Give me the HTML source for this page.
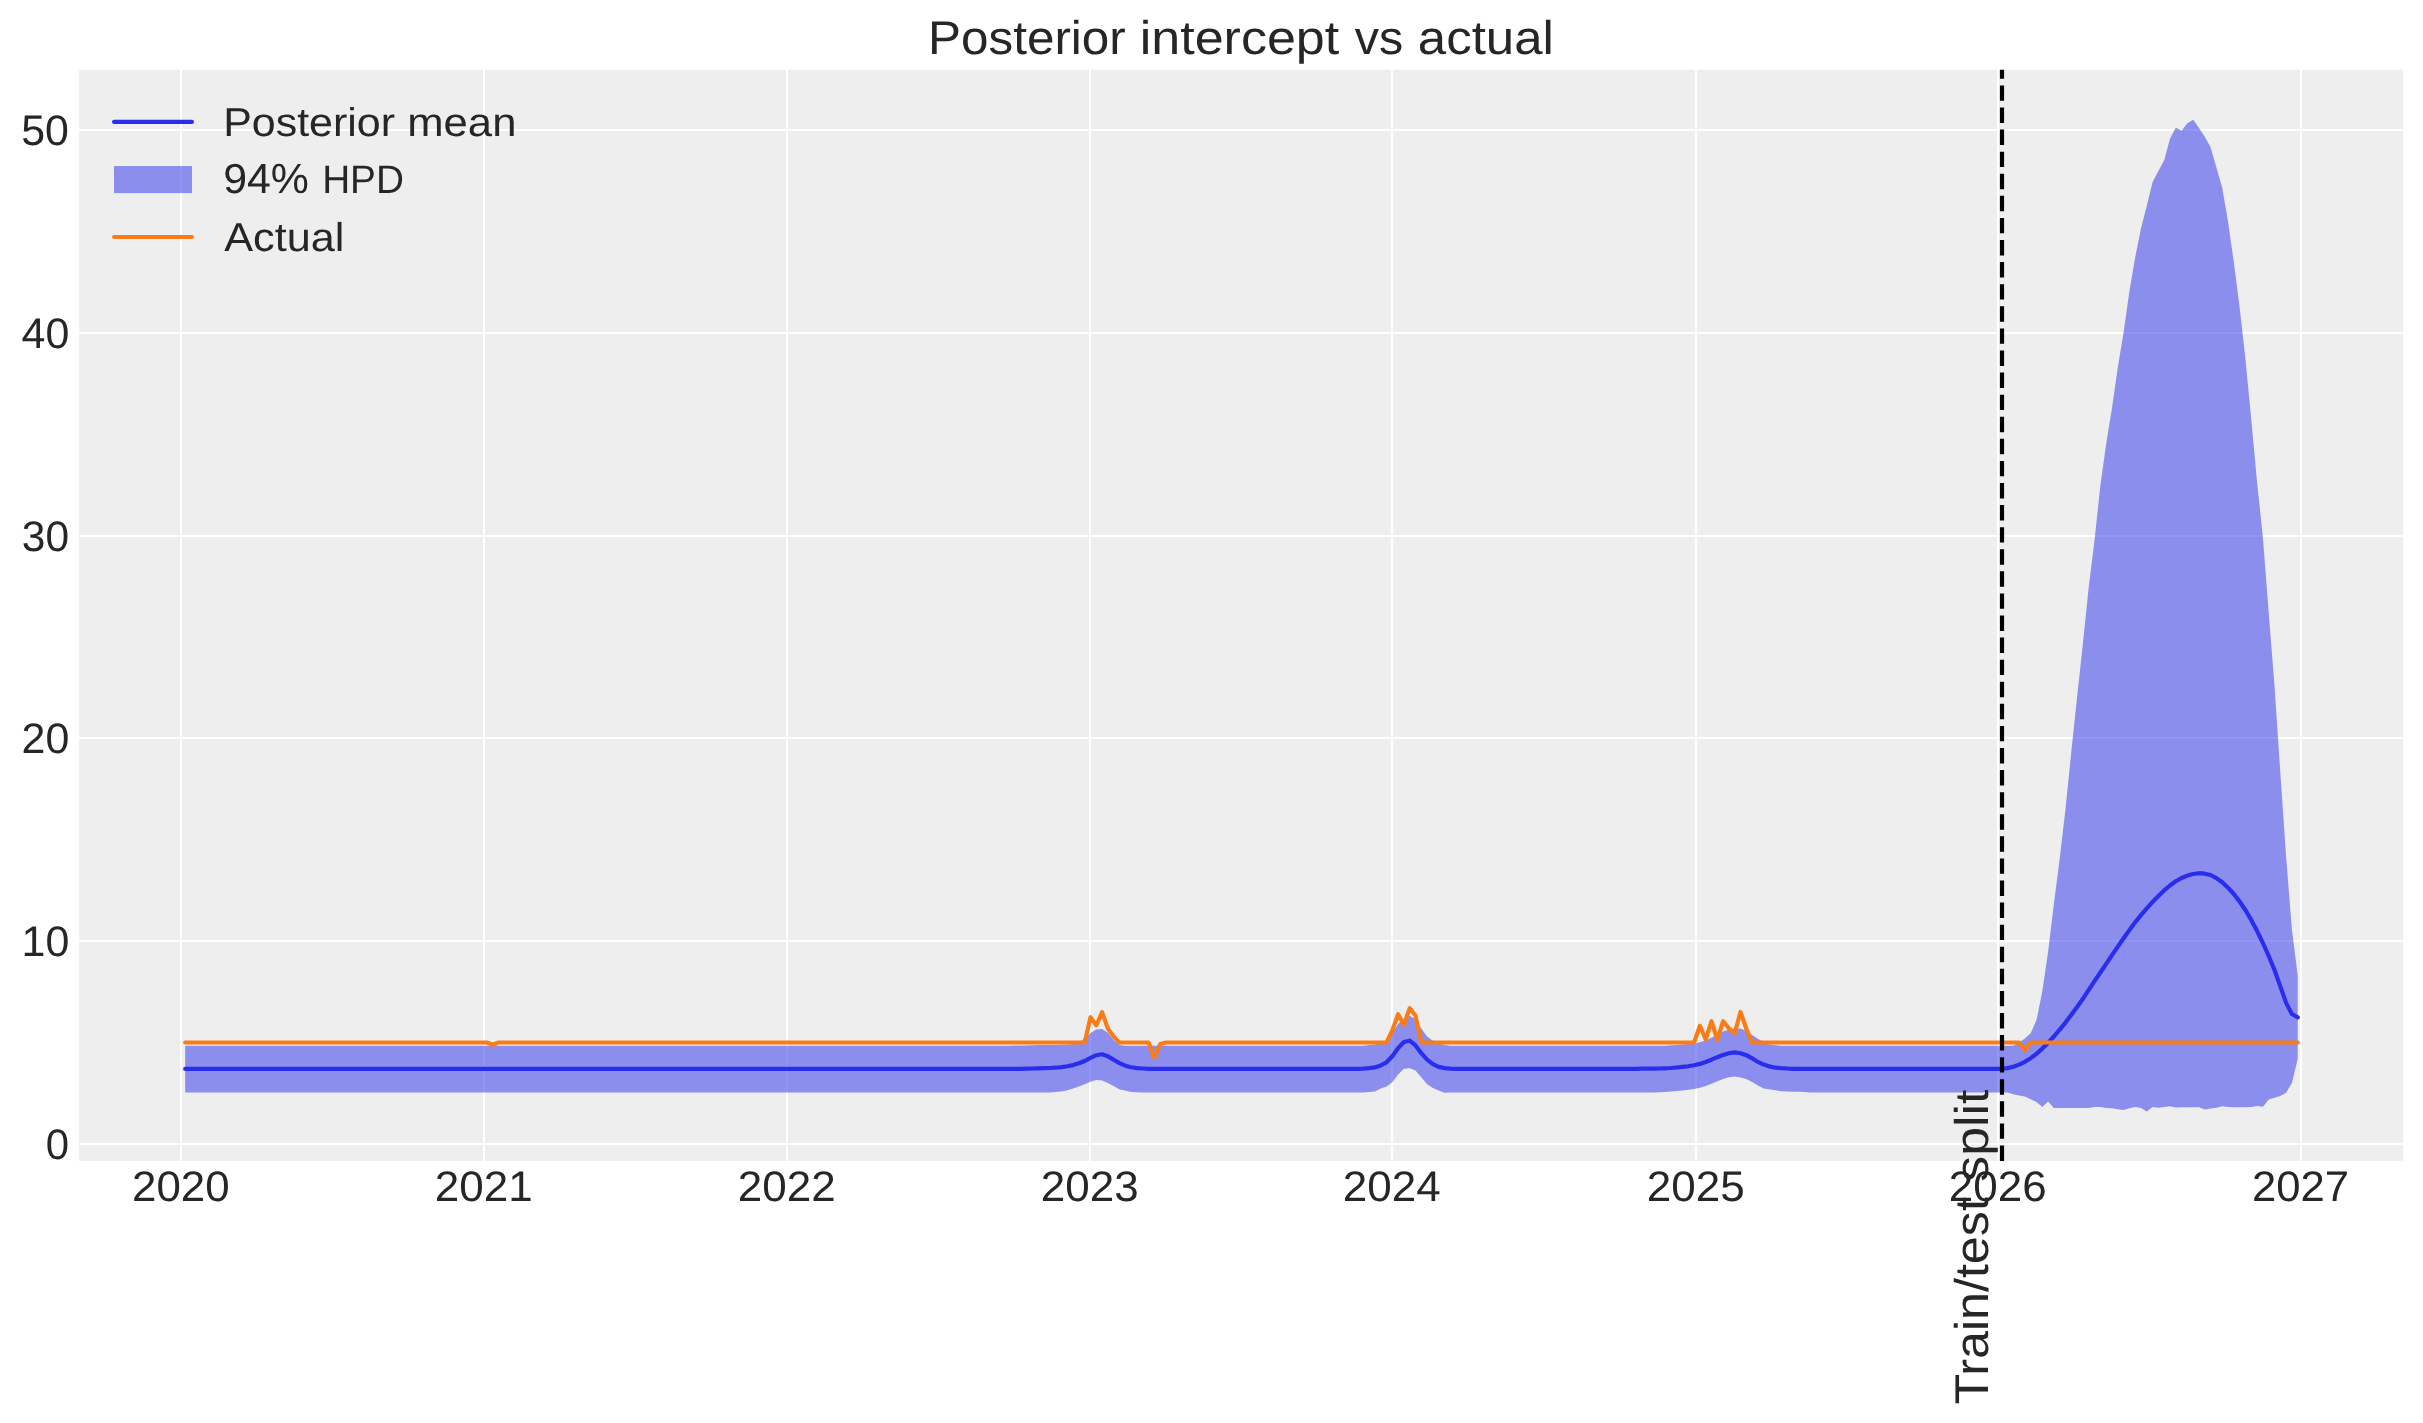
<!DOCTYPE html>
<html><head><meta charset="utf-8"><title>Posterior intercept vs actual</title>
<style>
html,body{margin:0;padding:0;background:#fff;}
body{width:2423px;height:1423px;overflow:hidden;}
svg{display:block;}
text{font-family:"Liberation Sans",sans-serif;fill:#262626;text-rendering:geometricPrecision;}
</style></head><body>
<svg width="2423" height="1423" viewBox="0 0 2423 1423">
<rect x="0" y="0" width="2423" height="1423" fill="#ffffff"/>
<rect x="79.0" y="69.8" width="2324.0" height="1091.1" fill="#eeeeee"/>
<g fill="#ffffff" shape-rendering="crispEdges"><rect x="180" y="69.8" width="2.1" height="1091.1"/><rect x="483" y="69.8" width="2.1" height="1091.1"/><rect x="786" y="69.8" width="2.1" height="1091.1"/><rect x="1089" y="69.8" width="2.1" height="1091.1"/><rect x="1391" y="69.8" width="2.1" height="1091.1"/><rect x="1695" y="69.8" width="2.1" height="1091.1"/><rect x="1997" y="69.8" width="2.1" height="1091.1"/><rect x="2300" y="69.8" width="2.1" height="1091.1"/><rect x="79.0" y="129" width="2324.0" height="2.1"/><rect x="79.0" y="332" width="2324.0" height="2.1"/><rect x="79.0" y="535" width="2324.0" height="2.1"/><rect x="79.0" y="737" width="2324.0" height="2.1"/><rect x="79.0" y="940" width="2324.0" height="2.1"/><rect x="79.0" y="1143" width="2324.0" height="2.1"/></g>
<path d="M185.2 1045.7L1003.5 1045.7L1009.3 1045.7L1015.1 1045.6L1020.9 1045.5L1026.7 1045.4L1032.5 1045.3L1038.3 1045.1L1044.1 1045.0L1049.9 1044.9L1055.7 1044.9L1061.5 1044.8L1067.3 1044.6L1073.1 1044.3L1078.9 1042.7L1084.7 1037.9L1090.5 1033.1L1096.3 1029.5L1102.1 1029.1L1107.9 1032.7L1113.7 1040.1L1119.5 1044.9L1125.3 1045.7L1363.3 1045.7L1369.1 1045.1L1374.9 1044.5L1380.7 1043.5L1386.5 1041.1L1392.3 1033.5L1398.1 1024.0L1403.9 1018.4L1409.7 1015.7L1415.5 1019.2L1421.3 1028.5L1427.1 1036.6L1432.9 1040.7L1438.7 1043.6L1444.5 1045.1L1450.3 1045.7L1665.1 1045.7L1670.9 1045.2L1676.7 1044.9L1682.5 1044.6L1688.3 1044.1L1694.1 1043.4L1699.9 1042.3L1705.7 1040.5L1711.5 1037.8L1717.3 1034.7L1723.1 1031.6L1728.9 1029.6L1734.7 1028.7L1740.5 1028.4L1746.3 1030.9L1752.1 1034.9L1757.9 1038.8L1763.7 1041.9L1769.5 1044.4L1775.3 1045.2L1781.2 1045.7L2013.3 1045.7L2019.1 1042.4L2024.9 1038.5L2030.7 1033.2L2036.5 1020.0L2042.3 991.6L2048.1 951.8L2053.9 904.1L2059.7 858.8L2065.5 809.1L2071.3 752.1L2077.1 696.9L2082.9 643.7L2088.7 587.6L2094.5 540.6L2100.4 485.5L2106.2 443.8L2112.0 408.0L2117.8 367.5L2123.6 332.6L2129.4 291.2L2135.2 257.4L2141.0 228.2L2146.8 205.7L2152.6 182.1L2158.4 170.9L2164.2 160.3L2170.0 138.7L2175.8 127.4L2181.6 130.8L2187.4 123.2L2193.2 119.8L2199.0 128.1L2204.8 136.7L2210.6 147.2L2216.4 167.5L2222.2 187.7L2228.0 221.5L2233.8 261.9L2239.6 306.9L2245.4 358.7L2251.2 419.0L2257.0 481.4L2262.9 537.8L2268.7 612.8L2274.5 685.8L2280.3 772.5L2286.1 856.6L2291.9 929.6L2297.7 975.4L2297.7 1059.0L2291.9 1083.1L2286.1 1092.7L2280.3 1096.1L2274.5 1097.8L2268.7 1099.5L2262.9 1106.8L2257.0 1106.0L2251.2 1107.1L2245.4 1107.2L2239.6 1107.3L2233.8 1107.3L2228.0 1107.1L2222.2 1106.2L2216.4 1107.7L2210.6 1108.5L2204.8 1109.6L2199.0 1107.2L2181.6 1107.2L2175.8 1107.4L2170.0 1106.2L2164.2 1107.1L2158.4 1107.8L2152.6 1107.0L2146.8 1111.5L2141.0 1108.1L2135.2 1107.1L2129.4 1108.2L2123.6 1110.1L2117.8 1109.3L2112.0 1108.2L2106.2 1108.1L2100.4 1107.0L2094.5 1107.1L2088.7 1107.9L2082.9 1108.1L2053.9 1108.1L2048.1 1101.6L2042.3 1107.1L2036.5 1102.1L2030.7 1099.3L2024.9 1096.5L2019.1 1095.4L2013.3 1094.2L2007.5 1092.4L1810.2 1092.4L1804.4 1091.9L1798.6 1091.8L1792.8 1091.7L1787.0 1091.6L1781.2 1091.3L1775.3 1090.3L1769.5 1089.2L1763.7 1088.6L1757.9 1085.6L1752.1 1081.9L1746.3 1078.9L1740.5 1077.5L1734.7 1076.4L1728.9 1077.3L1723.1 1079.1L1717.3 1081.3L1711.5 1083.7L1705.7 1086.1L1699.9 1087.8L1694.1 1089.0L1688.3 1089.8L1682.5 1090.5L1676.7 1091.1L1670.9 1091.6L1665.1 1091.9L1659.3 1092.3L1653.5 1092.4L1450.3 1092.4L1444.5 1092.7L1438.7 1090.4L1432.9 1087.9L1427.1 1084.3L1421.3 1077.3L1415.5 1070.4L1409.7 1068.3L1403.9 1068.8L1398.1 1074.4L1392.3 1082.3L1386.5 1086.5L1380.7 1088.6L1374.9 1091.6L1369.1 1092.1L1363.3 1092.4L1142.8 1092.4L1136.9 1092.2L1131.1 1092.1L1125.3 1090.6L1119.5 1089.6L1113.7 1085.9L1107.9 1083.0L1102.1 1080.6L1096.3 1080.1L1090.5 1081.7L1084.7 1084.2L1078.9 1086.5L1073.1 1088.5L1067.3 1090.3L1061.5 1091.6L1055.7 1092.0L1049.9 1092.4L185.2 1092.4Z" fill="#2a2eec" fill-opacity="0.5" stroke="none"/>
<path d="M185.2 1068.9L1009.3 1068.9L1015.1 1068.9L1020.9 1068.8L1026.7 1068.6L1032.5 1068.5L1038.3 1068.3L1044.1 1068.2L1049.9 1068.0L1055.7 1067.7L1061.5 1067.1L1067.3 1066.3L1073.1 1065.1L1078.9 1063.3L1084.7 1061.0L1090.5 1057.9L1096.3 1055.2L1102.1 1054.3L1107.9 1056.2L1113.7 1059.8L1119.5 1063.1L1125.3 1065.7L1131.1 1067.3L1136.9 1068.1L1142.8 1068.5L1148.6 1068.8L1154.4 1068.9L1334.3 1068.9L1340.1 1068.9L1351.7 1068.9L1357.5 1068.9L1363.3 1068.6L1369.1 1068.1L1374.9 1067.4L1380.7 1065.5L1386.5 1062.3L1392.3 1056.2L1398.1 1048.1L1403.9 1042.0L1409.7 1040.7L1415.5 1045.4L1421.3 1053.2L1427.1 1059.6L1432.9 1064.2L1438.7 1066.9L1444.5 1068.1L1450.3 1068.6L1456.1 1068.8L1462.0 1068.9L1618.6 1068.9L1624.5 1068.8L1630.3 1068.8L1636.1 1068.8L1641.9 1068.7L1647.7 1068.7L1653.5 1068.6L1659.3 1068.5L1665.1 1068.3L1670.9 1068.0L1676.7 1067.5L1682.5 1066.9L1688.3 1066.2L1694.1 1065.2L1699.9 1063.9L1705.7 1062.0L1711.5 1059.7L1717.3 1057.2L1723.1 1054.9L1728.9 1053.2L1734.7 1052.4L1740.5 1053.2L1746.3 1055.2L1752.1 1058.3L1757.9 1061.9L1763.7 1064.6L1769.5 1066.4L1775.3 1067.7L1781.2 1068.2L1787.0 1068.5L1792.8 1068.8L1798.6 1068.9L2001.7 1068.9L2007.5 1068.1L2013.3 1066.7L2019.1 1064.6L2024.9 1061.8L2030.7 1058.2L2036.5 1053.8L2042.3 1048.6L2048.1 1042.9L2053.9 1036.5L2059.7 1029.7L2065.5 1022.6L2071.3 1014.8L2077.1 1006.9L2082.9 998.8L2088.7 989.9L2094.5 981.2L2100.4 972.5L2106.2 963.8L2112.0 955.1L2117.8 946.6L2123.6 938.2L2129.4 930.1L2135.2 922.3L2141.0 915.1L2146.8 908.3L2152.6 901.9L2158.4 896.0L2164.2 890.4L2170.0 885.5L2175.8 881.3L2181.6 878.0L2187.4 875.6L2193.2 874.0L2199.0 873.2L2204.8 873.7L2210.6 875.0L2216.4 878.1L2222.2 882.2L2228.0 887.7L2233.8 894.0L2239.6 901.5L2245.4 910.0L2251.2 919.9L2257.0 930.8L2262.9 943.0L2268.7 956.0L2274.5 970.0L2280.3 986.4L2286.1 1002.9L2291.9 1014.0L2297.7 1017.4" fill="none" stroke="#2a2eec" stroke-width="4.17" stroke-linecap="round" stroke-linejoin="round"/>
<path d="M185.2 1042.5L486.9 1042.5L492.7 1044.8L498.5 1042.5L1084.7 1042.5L1090.5 1017.2L1096.3 1025.4L1102.1 1012.2L1107.9 1028.8L1113.7 1036.6L1119.5 1042.5L1148.6 1042.5L1154.4 1057.9L1160.2 1044.0L1166.0 1042.5L1386.5 1042.5L1392.3 1030.5L1398.1 1014.2L1403.9 1025.0L1409.7 1008.1L1415.5 1015.7L1421.3 1042.5L1694.1 1042.5L1699.9 1025.8L1705.7 1039.5L1711.5 1021.2L1717.3 1040.2L1723.1 1021.2L1728.9 1028.4L1734.7 1033.4L1740.5 1011.9L1746.3 1028.8L1752.1 1042.5L2019.1 1042.5L2024.9 1050.3L2030.7 1042.5L2297.7 1042.5" fill="none" stroke="#fa7c17" stroke-width="4.17" stroke-linecap="round" stroke-linejoin="round"/>
<line x1="2002" y1="1160.9" x2="2002" y2="69.8" stroke="#000000" stroke-width="4.17" stroke-dasharray="15.417 6.667"/>
<line x1="114.1" y1="121.9" x2="191.9" y2="121.9" stroke="#2a2eec" stroke-width="4.17" stroke-linecap="round"/>
<rect x="114.0" y="166.0" width="78.0" height="27.1" fill="#2a2eec" fill-opacity="0.5"/>
<line x1="114.1" y1="237.0" x2="191.9" y2="237.0" stroke="#fa7c17" stroke-width="4.17" stroke-linecap="round"/>
<g style="opacity:0.999">
<text id="t1" x="927.97" y="53.90" font-size="47.30" textLength="197.86" lengthAdjust="spacingAndGlyphs">Posterior</text>
<text id="t2" x="1139.81" y="53.90" font-size="47.30" textLength="199.41" lengthAdjust="spacingAndGlyphs">intercept</text>
<text id="t3" x="1354.87" y="53.90" font-size="47.30" textLength="48.46" lengthAdjust="spacingAndGlyphs">vs</text>
<text id="t4" x="1417.80" y="53.90" font-size="47.30" textLength="136.14" lengthAdjust="spacingAndGlyphs">actual</text>
<text id="lg1a" x="223.20" y="135.90" font-size="40.20" textLength="171.75" lengthAdjust="spacingAndGlyphs">Posterior</text>
<text id="lg1b" x="407.25" y="135.90" font-size="40.20" textLength="109.16" lengthAdjust="spacingAndGlyphs">mean</text>
<text id="lg2a" x="223.19" y="193.10" font-size="42.00" textLength="85.73" lengthAdjust="spacingAndGlyphs">94%</text>
<text id="lg2b" x="322.15" y="193.10" font-size="39.80" textLength="81.79" lengthAdjust="spacingAndGlyphs">HPD</text>
<text id="lg3" x="224.24" y="251.40" font-size="40.20" textLength="120.11" lengthAdjust="spacingAndGlyphs">Actual</text>
<text id="y50" x="21.26" y="144.90" font-size="42.80" textLength="47.66" lengthAdjust="spacingAndGlyphs">50</text>
<text id="y40" x="21.55" y="347.70" font-size="42.80" textLength="47.75" lengthAdjust="spacingAndGlyphs">40</text>
<text id="y30" x="21.84" y="550.50" font-size="42.80" textLength="47.27" lengthAdjust="spacingAndGlyphs">30</text>
<text id="y20" x="21.55" y="753.30" font-size="42.80" textLength="47.75" lengthAdjust="spacingAndGlyphs">20</text>
<text id="y10" x="21.55" y="956.10" font-size="42.80" textLength="47.75" lengthAdjust="spacingAndGlyphs">10</text>
<text id="y0" x="45.78" y="1158.90" font-size="42.80" textLength="23.33" lengthAdjust="spacingAndGlyphs">0</text>
<text id="x0" x="132.10" y="1200.80" font-size="42.80" textLength="97.53" lengthAdjust="spacingAndGlyphs">2020</text>
<text id="x1" x="434.75" y="1200.80" font-size="42.80" textLength="97.85" lengthAdjust="spacingAndGlyphs">2021</text>
<text id="x2" x="737.75" y="1200.80" font-size="42.80" textLength="97.85" lengthAdjust="spacingAndGlyphs">2022</text>
<text id="x3" x="1040.75" y="1200.80" font-size="42.80" textLength="97.85" lengthAdjust="spacingAndGlyphs">2023</text>
<text id="x4" x="1342.75" y="1200.80" font-size="42.80" textLength="97.85" lengthAdjust="spacingAndGlyphs">2024</text>
<text id="x5" x="1646.75" y="1200.80" font-size="42.80" textLength="97.85" lengthAdjust="spacingAndGlyphs">2025</text>
<text id="x6" x="1948.75" y="1200.80" font-size="42.80" textLength="97.85" lengthAdjust="spacingAndGlyphs">2026</text>
<text id="x7" x="2252.08" y="1200.80" font-size="42.80" textLength="97.05" lengthAdjust="spacingAndGlyphs">2027</text>
<text id="an1" x="-1404.55" y="0.00" font-size="47.30" textLength="207.40" lengthAdjust="spacingAndGlyphs" transform="translate(1988.00 0) rotate(-90)">Train/test</text>
<text id="an2" x="-1181.72" y="0.00" font-size="47.30" textLength="92.12" lengthAdjust="spacingAndGlyphs" transform="translate(1988.00 0) rotate(-90)">split</text>
</g>
</svg>
</body></html>
